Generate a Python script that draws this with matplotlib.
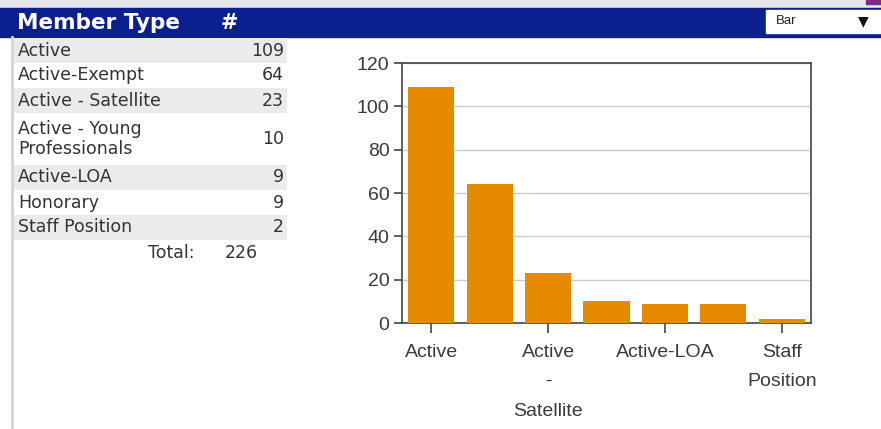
import matplotlib
matplotlib.use("Agg")
import matplotlib.pyplot as plt
from matplotlib.patches import Rectangle

member_types = ["Active", "Active-Exempt", "Active - Satellite",
                "Active - Young\nProfessionals", "Active-LOA", "Honorary",
                "Staff Position"]
counts = [109, 64, 23, 10, 9, 9, 2]
total = 226
tick_labels = ["Active", "Active\n-\nSatellite", "Active-LOA", "Staff\nPosition"]
tick_pos = [0, 2, 4, 6]

W, H = 881, 429
fig = plt.figure(figsize=(W / 100, H / 100), dpi=100)
fig.patch.set_facecolor("white")

# background layer in pixel coordinates
bg = fig.add_axes([0, 0, 1, 1])
bg.set_xlim(0, W)
bg.set_ylim(H, 0)
bg.axis("off")

bg.add_patch(Rectangle((0, 0), W, 8, color="#e4e4ea"))
bg.add_patch(Rectangle((866, 0), 15, 4, color="#7a2a8a"))
bg.add_patch(Rectangle((0, 8), W, 29, color="#0c1f8e"))
bg.add_patch(Rectangle((766, 10), 115, 23, color="white"))
bg.text(776, 21.5, "Bar", fontsize=9.5, color="#222222", va="center",
        family="Liberation Sans")
bg.text(858, 21.5, "\u25bc", fontsize=10, color="#111111", va="center")
bg.text(17, 23, "Member Type", fontsize=15.5, color="white", weight="bold",
        va="center", family="DejaVu Sans")
bg.text(221, 23, "#", fontsize=15, color="white", weight="bold",
        va="center", family="DejaVu Sans")

# left border line
bg.plot([12, 12], [37, H], color="#d4d4d4", lw=2)

# table rows
y = 38
for i, (name, n) in enumerate(zip(member_types, counts)):
    h = 52 if "\n" in name else 25
    if i % 2 == 0:
        bg.add_patch(Rectangle((14, y), 273, h, color="#ebebeb", lw=0))
    bg.text(18, y + h / 2, name, fontsize=12.5, color="#333333", va="center",
            family="DejaVu Sans", linespacing=1.2)
    bg.text(284, y + h / 2, str(n), fontsize=12.5, color="#333333",
            va="center", ha="right", family="DejaVu Sans")
    y += h
bg.text(195, y + 13, "Total:", fontsize=12.5, color="#333333", va="center",
        ha="right", family="DejaVu Sans")
bg.text(258, y + 13, str(total), fontsize=12.5, color="#333333", va="center",
        ha="right", family="DejaVu Sans")

# bar chart
ax = fig.add_axes([402 / W, 1 - 323 / H, 409 / W, 260 / H])
x = list(range(len(counts)))
ax.bar(x, counts, width=0.79, color="#e68a00", zorder=3)
ax.set_xlim(-0.5, len(counts) - 0.5)
ax.set_ylim(0, 120)
ax.set_yticks(range(0, 121, 20))
ax.yaxis.grid(True, color="#cccccc", lw=1, zorder=0)
ax.set_xticks(tick_pos)
ax.set_xticklabels(tick_labels, fontsize=14, color="#3a3a3a",
                   family="Liberation Sans", linespacing=1.95)
for lbl in ax.get_yticklabels():
    lbl.set_fontsize(14)
    lbl.set_color("#3a3a3a")
    lbl.set_family("Liberation Sans")
for s in ax.spines.values():
    s.set_color("#444444")
    s.set_linewidth(1.2)
ax.tick_params(axis="y", length=6, width=1.2, color="#444444", pad=3)
ax.tick_params(axis="x", length=7, width=1.2, color="#444444", pad=8)

fig.savefig("out.png", dpi=100)
